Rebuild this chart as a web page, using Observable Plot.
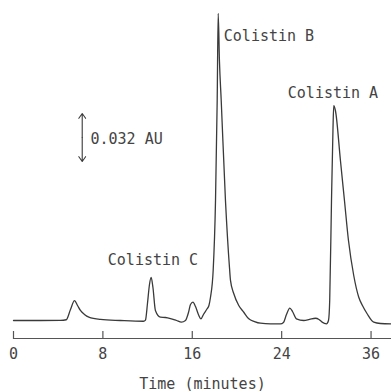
<!DOCTYPE html>
<html>
<head>
<meta charset="utf-8">
<script src="https://cdn.jsdelivr.net/npm/d3@7"></script>
<script src="https://cdn.jsdelivr.net/npm/@observablehq/plot@0.6"></script>
<style>
  html, body { margin: 0; padding: 0; background: #fff; }
</style>
</head>
<body>
<div id="chart"></div>
<script>
// Chromatogram trace: retention time (minutes) and absorbance above baseline (AU)
const times = [0.00, 2.42, 4.21, 4.72, 5.10, 5.46, 5.73, 5.99, 6.35, 6.74, 7.79, 9.57,
  11.63, 11.81, 11.99, 12.17, 12.32, 12.48, 12.70, 13.15, 13.60, 14.05, 14.59, 15.03,
  15.39, 15.66, 15.84, 16.06, 16.29, 16.55, 16.78, 17.00, 17.33, 17.49, 17.63, 17.87,
  18.08, 18.23, 18.32, 18.43, 18.59, 18.97, 19.33, 19.42, 19.71, 20.16, 20.61, 21.06,
  21.57, 22.10, 23.00, 23.89, 24.16, 24.43, 24.73, 24.97, 25.32, 25.98, 26.49, 27.02,
  27.34, 27.62, 28.01, 28.19, 28.30, 28.46, 28.59, 28.66, 28.81, 29.26, 29.62, 29.98,
  30.45, 30.90, 31.23, 31.65, 32.24, 32.84, 33.83];
const absorbance = [0.0000, 0.0000, 0.0001, 0.0005, 0.0073, 0.0133, 0.0100, 0.0067, 0.0040, 0.0022, 0.0007, 0.0000,
  -0.0005, 0.0003, 0.0113, 0.0240, 0.0287, 0.0220, 0.0067, 0.0022, 0.0020, 0.0013, 0.0000, -0.0011,
  0.0000, 0.0053, 0.0107, 0.0122, 0.0093, 0.0040, 0.0011, 0.0040, 0.0078, 0.0100, 0.0155, 0.0333,
  0.0800, 0.1467, 0.2047, 0.1733, 0.1467, 0.0800, 0.0353, 0.0267, 0.0180, 0.0100, 0.0055, 0.0011,
  -0.0007, -0.0018, -0.0022, -0.0022, -0.0013, 0.0040, 0.0082, 0.0060, 0.0011, 0.0000, 0.0007, 0.0015,
  0.0007, -0.0011, -0.0022, 0.0000, 0.0133, 0.0800, 0.1267, 0.1433, 0.1400, 0.1067, 0.0800, 0.0533,
  0.0300, 0.0155, 0.0100, 0.0045, -0.0011, -0.0020, -0.0022];

// Peak annotations
const peakNames = ["Colistin C", "Colistin B", "Colistin A"];
const peakLabelTimes = [8.44, 18.82, 24.55];
const peakLabelValues = [0.040, 0.1893, 0.1513];

// Scale bar (0.032 AU)
const scaleBarTime = [6.15];
const scaleBarFrom = [0.106];
const scaleBarTo = [0.138];
const scaleBarText = ["0.032 AU"];
const scaleBarTextTime = [6.89];
const scaleBarTextValue = [0.1207];

// Axis ticks (as printed)
const tickValues = [0, 8, 16, 24, 32];
const tickLabels = ["0", "8", "16", "24", "36"];

const trace = times.map((t, i) => ({t, a: absorbance[i]}));
const labels = peakNames.map((name, i) => ({name, t: peakLabelTimes[i], a: peakLabelValues[i]}));
const bar = scaleBarTime.map((t, i) => ({t, a1: scaleBarFrom[i], a2: scaleBarTo[i], mid: (scaleBarFrom[i] + scaleBarTo[i]) / 2}));
const barText = scaleBarText.map((s, i) => ({s, t: scaleBarTextTime[i], a: scaleBarTextValue[i]}));

const ink = "#3a3a3a";

const chart = Plot.plot({
  width: 391,
  height: 391,
  marginLeft: 13,
  marginRight: 0,
  marginTop: 0,
  marginBottom: 53,
  style: {fontFamily: "'DejaVu Sans Mono', monospace", fontSize: "15px", color: "#444", background: "#fff"},
  x: {domain: [0, 33.83]},
  y: {domain: [-0.012, 0.21333], axis: null},
  marks: [
    Plot.frame({anchor: "bottom", stroke: "#555", strokeWidth: 1.2}),
    Plot.tickX(tickValues, {x: d => d, insetTop: 331, stroke: "#555", strokeWidth: 1.2}),
    Plot.axisX({
      ticks: tickValues,
      tickFormat: d => tickLabels[tickValues.indexOf(d)],
      tickSize: 0,
      tickPadding: 10,
      fontSize: 15,
      label: "Time (minutes)",
      labelAnchor: "center",
      labelArrow: "none",
      labelOffset: 50
    }),
    Plot.line(trace, {x: "t", y: "a", curve: "monotone-x", stroke: ink, strokeWidth: 1.3}),
    Plot.arrow(bar, {x1: "t", x2: "t", y1: "mid", y2: "a2", stroke: ink, strokeWidth: 1.1, headLength: 8, headAngle: 70}),
    Plot.arrow(bar, {x1: "t", x2: "t", y1: "mid", y2: "a1", stroke: ink, strokeWidth: 1.1, headLength: 8, headAngle: 70}),
    Plot.text(barText, {x: "t", y: "a", text: "s", textAnchor: "start", fill: "#444", fontSize: 15}),
    Plot.text(labels, {x: "t", y: "a", text: "name", textAnchor: "start", fill: "#444", fontSize: 15})
  ]
});
document.getElementById("chart").appendChild(chart);
</script>
</body>
</html>
